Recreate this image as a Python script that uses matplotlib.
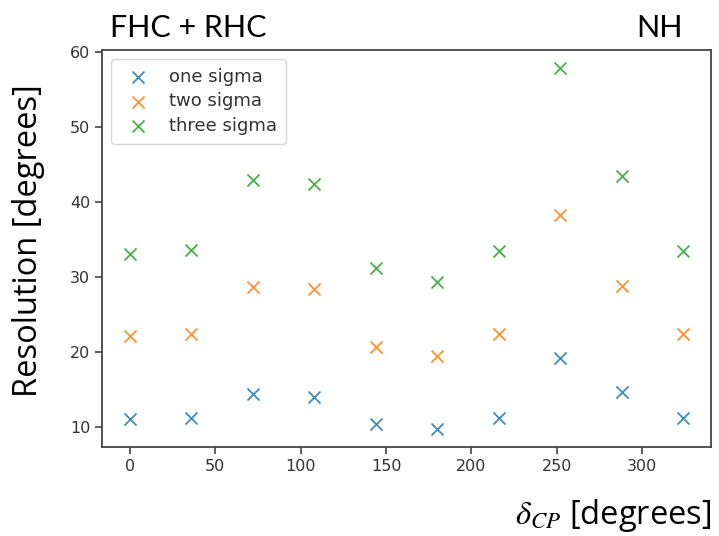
import matplotlib
matplotlib.use("Agg")
import matplotlib.pyplot as plt

# delta_CP values scanned (degrees)
delta_cp = [0, 36, 72, 108, 144, 180, 216, 252, 288, 324]

# resolution on delta_CP (degrees) at each confidence level
one_sigma = [11.1, 11.3, 14.5, 14.1, 10.5, 9.8, 11.2, 19.3, 14.7, 11.2]
two_sigma = [22.2, 22.4, 28.7, 28.5, 20.7, 19.5, 22.4, 38.3, 28.9, 22.4]
three_sigma = [33.1, 33.6, 43.0, 42.5, 31.2, 29.4, 33.5, 57.9, 43.5, 33.5]

series = [("one sigma", one_sigma, "tab:blue"),
          ("two sigma", two_sigma, "tab:orange"),
          ("three sigma", three_sigma, "tab:green")]

plt.rcParams["mathtext.fontset"] = "stix"

fig = plt.figure(figsize=(7.19, 5.36), dpi=100)
ax = fig.add_axes([0.1419, 0.166, 0.847, 0.7407])

for label, vals, col in series:
    ax.scatter(delta_cp, vals, marker="x", s=75, linewidths=1.3,
               color=col, alpha=0.85, label=label)

ax.set_xticks([0, 50, 100, 150, 200, 250, 300])
ax.set_yticks([10, 20, 30, 40, 50, 60])
ax.tick_params(labelsize=11.5, colors="#333333", length=5, width=1.1)
for sp in ax.spines.values():
    sp.set_color("#444444")
    sp.set_linewidth(1.3)

leg = ax.legend(loc="upper left", fontsize=13, handletextpad=0.7,
                borderpad=0.5, labelspacing=0.35, borderaxespad=0.5)
for t in leg.get_texts():
    t.set_color("#333333")

title_font = ["Lato", "DejaVu Sans"]
label_font = ["Open Sans", "DejaVu Sans"]
fig.text(0.153, 0.948, "FHC + RHC", fontsize=22, family=title_font,
         ha="left", va="center")
fig.text(0.950, 0.948, "NH", fontsize=22, family=title_font,
         ha="right", va="center")
fig.text(0.039, 0.552, "Resolution [degrees]", fontsize=23.5,
         family=label_font, rotation=90, ha="center", va="center")
fig.text(0.990, 0.038, r"$\delta_{CP}$ [degrees]", fontsize=23.5,
         family=label_font, ha="right", va="center")

fig.savefig("out.png", dpi=100)
